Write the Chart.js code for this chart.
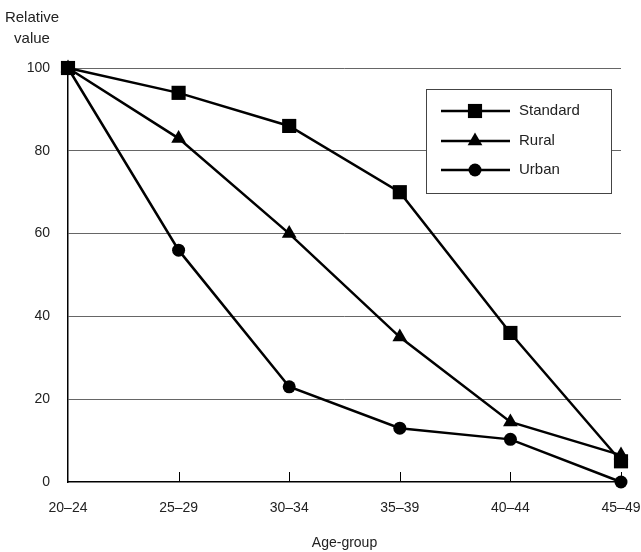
<!DOCTYPE html>
<html>
<head>
<meta charset="utf-8">
<script src="https://cdn.jsdelivr.net/npm/chart.js@4"></script>
<style>
  html, body { margin: 0; padding: 0; background: #fff; }
  #wrap { width: 641px; height: 552px; }
</style>
</head>
<body>
<div id="wrap"><canvas id="chart" width="641" height="552"></canvas></div>
<script>
// Données
const ageGroups = ['20–24', '25–29', '30–34', '35–39', '40–44', '45–49'];
const standardValues = [100, 94, 86, 70, 36, 5];
const ruralValues = [100, 83, 60, 35, 14.5, 6.5];
const urbanValues = [100, 56, 23, 13, 10.3, 0];
const yTicks = [0, 20, 40, 60, 80, 100];

const FONT = "'Liberation Sans', Arial, sans-serif";

const seriesNames = ['Standard', 'Rural', 'Urban'];
const seriesMarkers = ['rect', 'triangle', 'circle'];
const markerRadius = { rect: 10, triangle: 8.5, circle: 6.5 };

function makeDataset(label, data, marker) {
    return {
        label: label,
        data: data,
        borderColor: '#000',
        backgroundColor: '#000',
        borderWidth: 2.5,
        pointStyle: marker,
        pointRadius: markerRadius[marker],
        pointBorderWidth: 0,
        pointBackgroundColor: '#000',
        tension: 0,
        clip: false
    };
}

// Petits traits verticaux sur l'axe des x (vers l'intérieur)
const innerTicks = {
    id: 'innerTicks',
    afterDraw(chart) {
        const c = chart.ctx, x = chart.scales.x, area = chart.chartArea;
        c.save();
        c.strokeStyle = '#000';
        c.lineWidth = 1;
        for (let i = 1; i < ageGroups.length; i++) {
            const px = Math.round(x.getPixelForValue(i)) + 0.5;
            c.beginPath();
            c.moveTo(px, area.bottom);
            c.lineTo(px, area.bottom - 10);
            c.stroke();
        }
        c.restore();
    }
};

// Titre de l'axe y en haut à gauche + légende encadrée
const extras = {
    id: 'extras',
    afterDraw(chart) {
        const c = chart.ctx;
        c.save();
        c.fillStyle = '#222';
        c.font = '15px ' + FONT;
        c.textAlign = 'center';
        c.textBaseline = 'middle';
        c.fillText('Relative', 32, 18);
        c.fillText('value', 32, 39);

        // Légende
        const bx = 426, by = 89, bw = 185, bh = 104;
        c.fillStyle = '#fff';
        c.fillRect(bx, by, bw, bh);
        c.strokeStyle = '#444';
        c.lineWidth = 1;
        c.strokeRect(bx + 0.5, by + 0.5, bw, bh);
        const rows = [111, 141, 170];
        seriesNames.forEach((name, i) => {
            const y = rows[i];
            c.strokeStyle = '#000';
            c.lineWidth = 2.5;
            c.beginPath();
            c.moveTo(441, y);
            c.lineTo(510, y);
            c.stroke();
            c.fillStyle = '#000';
            Chart.helpers.drawPoint(c, {
                pointStyle: seriesMarkers[i],
                radius: markerRadius[seriesMarkers[i]],
                borderWidth: 0,
                rotation: 0
            }, 475, y);
            c.fillStyle = '#222';
            c.font = '15px ' + FONT;
            c.textAlign = 'left';
            c.textBaseline = 'middle';
            c.fillText(name, 519, y);
        });
        c.restore();
    }
};

new Chart(document.getElementById('chart').getContext('2d'), {
    type: 'line',
    data: {
        labels: ageGroups,
        datasets: [
            makeDataset(seriesNames[0], standardValues, 'rect'),
            makeDataset(seriesNames[1], ruralValues, 'triangle'),
            makeDataset(seriesNames[2], urbanValues, 'circle')
        ]
    },
    options: {
        responsive: false,
        animation: false,
        layout: { padding: { left: 0, top: 68, right: 20, bottom: 0 } },
        plugins: {
            legend: { display: false },
            tooltip: { enabled: false }
        },
        scales: {
            x: {
                type: 'category',
                offset: false,
                afterFit(scale) {
                    scale.height = 70;
                    scale.paddingRight = 0;
                    scale.paddingLeft = 0;
                },
                grid: { display: false, drawTicks: false },
                border: { display: true, color: '#000', width: 1.5 },
                ticks: {
                    color: '#222',
                    padding: 18,
                    maxRotation: 0,
                    font: { family: FONT, size: 14 }
                },
                title: {
                    display: true,
                    text: 'Age-group',
                    color: '#222',
                    padding: { top: 12, bottom: 0 },
                    font: { family: FONT, size: 14 }
                }
            },
            y: {
                min: 0,
                max: 100,
                afterFit(scale) { scale.width = 68; },
                afterBuildTicks(scale) {
                    scale.ticks = yTicks.map(v => ({ value: v }));
                },
                grid: {
                    drawTicks: false,
                    color: ctx => ctx.tick && ctx.tick.value === 0 ? 'rgba(0,0,0,0)' : '#666',
                    lineWidth: 1
                },
                border: { display: true, color: '#000', width: 1.5 },
                ticks: {
                    color: '#222',
                    padding: 18,
                    font: { family: FONT, size: 14 }
                }
            }
        }
    },
    plugins: [innerTicks, extras]
});
</script>
</body>
</html>
